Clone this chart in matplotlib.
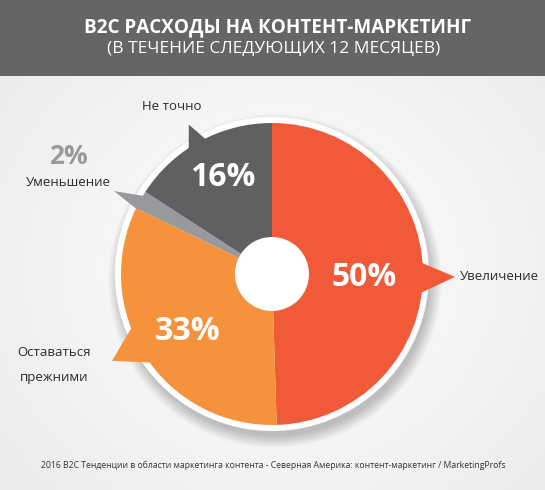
import numpy as np
import matplotlib
matplotlib.use('Agg')
import matplotlib.pyplot as plt
from matplotlib.patches import Polygon, Circle, Rectangle

# ---- data ----
categories = ['Увеличение', 'Оставаться\nпрежними', 'Уменьшение', 'Не точно']
values = [50, 33, 2, 16]
pct_labels = ['50%', '33%', '2%', '16%']
colors = ['#F05A38', '#F6913C', '#98999C', '#5F6062']
title1 = 'B2C РАСХОДЫ НА КОНТЕНТ-МАРКЕТИНГ'
title2 = '(В ТЕЧЕНИЕ СЛЕДУЮЩИХ 12 МЕСЯЦЕВ)'
source = ('2016 B2C Тенденции в области маркетинга контента - Северная Америка: '
          'контент-маркетинг / MarketingProfs')

W, H = 545, 490
FONT = ['Open Sans', 'DejaVu Sans']
plt.rcParams['font.family'] = FONT

fig = plt.figure(figsize=(W / 100, H / 100), dpi=100)
ax = fig.add_axes([0, 0, 1, 1])

def Y(py):
    return H - py

# background gradient
yy, xx = np.mgrid[0:H, 0:W]
d = np.sqrt(((xx - 280) / 330.0) ** 2 + ((yy - 270) / 300.0) ** 2)
bg = 1.0 - 0.07 * np.clip(d, 0, 1.2)
ax.imshow(np.dstack([bg, bg, bg]), extent=[0, W, 0, H], origin='upper', zorder=0)

# title bar
ax.add_patch(Rectangle((0, Y(76)), W, 76, color='#646567', zorder=1, lw=0))
ax.text(W / 2 + 5, Y(27), title1, color='white', fontsize=13.6, fontweight='bold',
        ha='center', va='center', zorder=5)
ax.text(W / 2 + 1, Y(49), title2, color='white', fontsize=12.5, fontweight='normal',
        ha='center', va='center', zorder=5)

# pie geometry
cx, cy = 272, Y(274)
R = 151
r_hole = 37

# shadow and white ring
for k in range(14):
    ax.add_patch(Circle((cx + 3, cy - 7), R + 4 + k * 0.9, color='black',
                        alpha=0.014, lw=0, zorder=1.5))
ax.add_patch(Circle((cx, cy), R + 6, color='white', lw=0, zorder=2))

wedges, _ = ax.pie(values, colors=colors, startangle=90, counterclock=False,
                   radius=R, center=(cx, cy), frame=True,
                   wedgeprops=dict(width=R - r_hole, linewidth=0))
for w in wedges:
    w.set_zorder(4)

# pointers (tip angle, tip radius, base angle a, base angle b)
pointers = [(-0.9, 183, 4.5, -7.5),
            (208.5, 182, 200.5, 216.5),
            (152.3, 178.5, 148.5, 154.5),
            (119.1, 171, 124.0, 116.0)]
for (ta, tr, a1, a2), col in zip(pointers, colors):
    pts = []
    for ang, rad in [(a1, R - 2), (ta, tr), (a2, R - 2)]:
        t = np.deg2rad(ang)
        pts.append((cx + rad * np.cos(t), cy + rad * np.sin(t)))
    ax.add_patch(Polygon(pts, closed=True, color=col, lw=0, zorder=3))

# percentage labels
pct_pos = [(364, 277), (188, 332), (68, 156), (223, 177)]
pct_col = ['white', 'white', '#98999C', 'white']
pct_size = [23, 23, 19, 23]
for lab, (px, py), c, s in zip(pct_labels, pct_pos, pct_col, pct_size):
    ax.text(px, Y(py), lab, color=c, fontsize=s, fontweight='bold',
            ha='center', va='center', zorder=6)

# category labels
cat_pos = [(460, 277, 'left'), (54, 365, 'center'), (68, 183, 'center'), (172, 107, 'center')]
for lab, (px, py, ha) in zip(categories, cat_pos):
    ax.text(px, Y(py), lab, color='#2b2b2b', fontsize=9.5, ha=ha, va='center',
            linespacing=2.1, zorder=6)

# source
ax.text(273, Y(465), source, color='#333333', fontsize=6.2, ha='center', va='center', zorder=6)

ax.set_xlim(0, W)
ax.set_ylim(0, H)
ax.set_aspect('auto')
ax.axis('off')
fig.savefig('out.png', dpi=100)
